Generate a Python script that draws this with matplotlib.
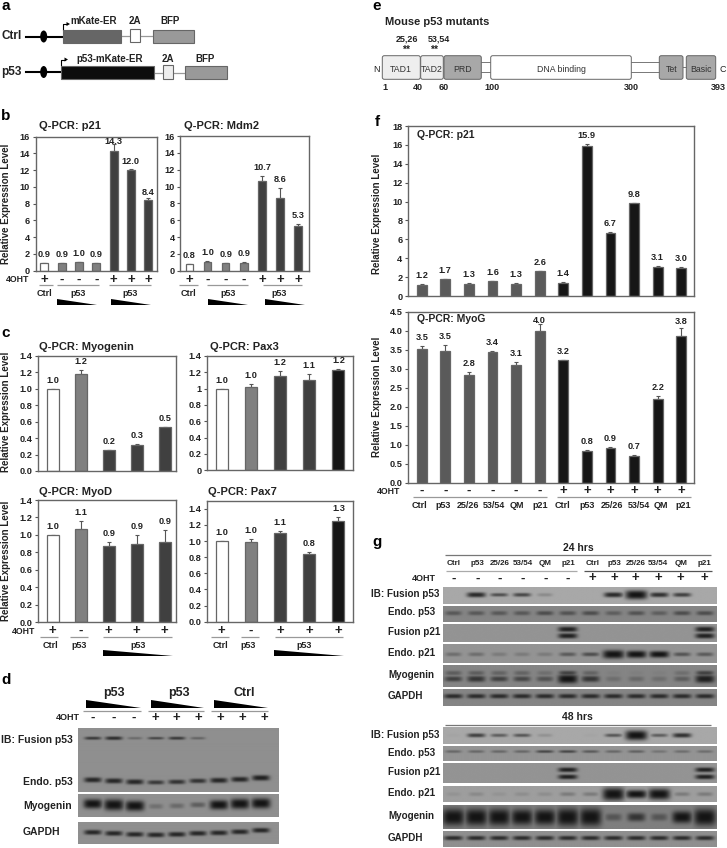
import numpy as np
import matplotlib
matplotlib.use('Agg')
import matplotlib.pyplot as plt
from matplotlib.patches import Rectangle, Polygon, Ellipse, FancyBboxPatch

plt.rcParams['font.family'] = ['Liberation Sans', 'DejaVu Sans']
plt.rcParams['font.weight'] = 'bold'

W, H = 727, 848

# Q-PCR values, upper error and printed labels
b_p21 = [0.9, 0.9, 1.0, 0.9, 14.3, 12.0, 8.4]
b_p21_err = [0.05, 0.03, 0.03, 0.03, 0.8, 0.2, 0.3]
b_mdm2 = [0.8, 1.0, 0.9, 0.9, 10.7, 8.6, 5.3]
b_mdm2_err = [0.05, 0.1, 0.03, 0.1, 0.6, 1.2, 0.2]
b_signs = ['+', '-', '-', '-', '+', '+', '+']

myogenin = [1.0, 1.18, 0.25, 0.32, 0.53]
myogenin_err = [0, 0.05, 0.005, 0.01, 0.01]
myogenin_lab = ['1.0', '1.2', '0.2', '0.3', '0.5']
pax3 = [1.0, 1.02, 1.16, 1.10, 1.23]
pax3_err = [0, 0.035, 0.055, 0.08, 0.015]
pax3_lab = ['1.0', '1.0', '1.2', '1.1', '1.2']
myod = [1.0, 1.07, 0.875, 0.90, 0.92]
myod_err = [0, 0.09, 0.04, 0.10, 0.14]
myod_lab = ['1.0', '1.1', '0.9', '0.9', '0.9']
pax7 = [1.0, 0.99, 1.10, 0.84, 1.25]
pax7_err = [0, 0.04, 0.03, 0.02, 0.05]
pax7_lab = ['1.0', '1.0', '1.1', '0.8', '1.3']
c_signs = ['+', '-', '+', '+', '+']

f_p21 = [1.2, 1.75, 1.3, 1.55, 1.3, 2.6, 1.4, 15.85, 6.7, 9.8, 3.1, 2.95]
f_p21_err = [0.03, 0.05, 0.05, 0.05, 0.03, 0.06, 0.05, 0.25, 0.1, 0.07, 0.08, 0.08]
f_p21_lab = ['1.2', '1.7', '1.3', '1.6', '1.3', '2.6', '1.4', '15.9', '6.7', '9.8', '3.1', '3.0']
f_myog = [3.52, 3.46, 2.84, 3.43, 3.11, 4.0, 3.23, 0.83, 0.93, 0.72, 2.21, 3.85]
f_myog_err = [0.08, 0.16, 0.07, 0.05, 0.06, 0.17, 0.01, 0.03, 0.01, 0.02, 0.07, 0.22]
f_myog_lab = ['3.5', '3.5', '2.8', '3.4', '3.1', '4.0', '3.2', '0.8', '0.9', '0.7', '2.2', '3.8']
f_signs = ['-'] * 6 + ['+'] * 6

# band strengths per lane, 1 = normal dark band, above 1 = swollen band
d_fusion = [0.7, 0.8, 0.3, 0.6, 0.7, 0.35, 0, 0, 0]
d_endo = [0.85, 0.85, 0.85, 0.7, 0.75, 0.75, 0.85, 0.85, 0.9]
d_myog = [1.1, 1.3, 1.2, 0.25, 0.3, 0.4, 1.1, 1.2, 1.2]
d_gapdh = [0.85] * 9

g24_fusion = [0, 0.85, 0.6, 0.65, 0.2, 0, 0, 0.85, 1.5, 0.8, 0.7, 0]
g24_endo = [0.4, 0.4, 0.4, 0.4, 0.5, 0.45, 0.5, 0.35, 0.45, 0.35, 0.5, 0.5]
g24_f21 = [0, 0, 0, 0, 0, 0.9, 0, 0, 0, 0, 0, 0.9]
g24_e21 = [0.3, 0.3, 0.2, 0.2, 0.2, 0.45, 0.55, 1.3, 1.1, 1.0, 0.5, 0.45]
g24_myog_up = [0.35, 0.35, 0.3, 0.3, 0.2, 0.6, 0.3, 0.05, 0.05, 0.05, 0.2, 0.6]
g24_myog_lo = [0.6, 0.7, 0.6, 0.55, 0.45, 1.0, 0.7, 0.2, 0.25, 0.2, 0.35, 0.9]
g24_gapdh = [0.8] * 12

g48_fusion = [0.03, 0.7, 0.5, 0.55, 0.15, 0, 0.03, 0.55, 1.7, 0.5, 0.8, 0]
g48_endo = [0.35, 0.35, 0.35, 0.35, 0.6, 0.6, 0.45, 0.35, 0.4, 0.25, 0.3, 0.3]
g48_f21 = [0, 0, 0, 0, 0, 0.9, 0, 0, 0, 0, 0, 0.9]
g48_e21 = [0.08, 0.15, 0.08, 0.12, 0.12, 0.25, 0.25, 1.9, 1.2, 1.6, 0.25, 0.25]
g48_myog = [1.4, 1.4, 1.4, 1.3, 1.3, 1.5, 1.5, 0.4, 0.7, 0.4, 1.0, 1.4]
g48_gapdh = [0.8] * 12

mut_labels = ['Ctrl', 'p53', '25/26', '53/54', 'QM', 'p21']

WHT, GRY, DRK, BLK = 'white', '#808080', '#404040', '#161616'
EDGE = '#666666'

fig = plt.figure(figsize=(W / 100, H / 100), dpi=100, facecolor='white')


def px_axes(l, t, r, b):
    return fig.add_axes([l / W, 1 - b / H, (r - l) / W, (b - t) / H])


# overlay in pixel coordinates for the labels and the schematic
ov = fig.add_axes([0, 0, 1, 1], zorder=10)
ov.set_xlim(0, W)
ov.set_ylim(H, 0)
ov.axis('off')
ov.patch.set_alpha(0)


def txt(x, y, s, size=6.5, ha='center', **kw):
    ov.text(x, y, s, fontsize=size, ha=ha, va='center', color='#222222', fontweight='bold', **kw)


def hline(x0, x1, y, color='#999999', lw=0.9):
    ov.plot([x0, x1], [y, y], color=color, lw=lw, solid_capstyle='butt')


def wedge(x0, x1, y0, y1):
    ov.add_patch(Polygon([(x0, y0), (x0, y1), (x1, y1)], closed=True, fc='black', ec='none'))


def bars(box, vals, errs, labels, colors, ylim, yticks, ticklabels, xlim, width,
         signs=None, sign_off=9, pads=None, lab_size=6.6):
    ax = px_axes(*box)
    xs = np.arange(len(vals))
    ax.bar(xs, vals, width=width, color=colors, edgecolor=EDGE, linewidth=0.9, zorder=2)
    ax.errorbar(xs, vals, yerr=[np.zeros(len(vals)), errs], fmt='none', ecolor='#555555',
                elinewidth=0.8, capsize=1.4, capthick=0.8, zorder=1)
    ax.set_xlim(*xlim)
    ax.set_ylim(*ylim)
    ax.set_xticks([])
    ax.set_yticks(yticks)
    ax.set_yticklabels(ticklabels)
    ax.tick_params(axis='y', length=2.5, width=0.8, pad=1.5, labelsize=6.6, color='#555555', labelcolor='#222222')
    for s in ax.spines.values():
        s.set_color(EDGE)
        s.set_linewidth(1.0)
    for i, lab in enumerate(labels):
        pad = (pads or {}).get(i, 8.5)
        ax.annotate(lab, xy=(i, vals[i] + errs[i]), xytext=(0, pad), textcoords='offset pixels',
                    ha='center', va='center', fontsize=lab_size, color='#222222', annotation_clip=False)
    if signs:
        for i, s in enumerate(signs):
            ax.annotate(s, xy=(i, 0), xycoords=('data', 'axes fraction'), xytext=(0, -sign_off),
                        textcoords='offset pixels', ha='center', va='center', fontsize=9.5,
                        color='#222222', annotation_clip=False)
    return ax


def blot(box, xlim, bg, rows, half=0.43):
    # rows: (y in px from top of the blot, strengths, band half-height in px, optional lane shifts)
    ax = px_axes(*box)
    h = box[3] - box[1]
    xg = np.linspace(xlim[0], xlim[1], int((box[2] - box[0]) * 3))
    yg = np.linspace(0, h, int(h * 3))
    X, Y = np.meshgrid(xg, yg)
    img = np.full(X.shape, float(bg))
    for row in rows:
        yc, vals, bh = row[:3]
        tilt = row[3] if len(row) > 3 else [0] * len(vals)
        for i, s in enumerate(vals):
            if s <= 0:
                continue
            sy = bh * max(s, 0.6)
            sx = half * (0.72 + 0.28 * min(s, 1.4))
            prof = np.exp(-(np.abs(X - i) / sx) ** 4 - (np.abs(Y - yc - tilt[i]) / sy) ** 2.6)
            img = np.minimum(img, bg - (bg - 0.08) * min(s, 1) * prof)
    ax.imshow(img, cmap='gray', vmin=0, vmax=1, aspect='auto', interpolation='bilinear',
              extent=[xlim[0], xlim[1], h, 0])
    ax.axis('off')
    return ax


# panel letters
for x, y, s in [(6, 6, 'a'), (6, 116, 'b'), (6, 333, 'c'), (6, 680, 'd'),
                (377, 6, 'e'), (377, 122, 'f'), (377, 542, 'g')]:
    ov.text(x, y, s, fontsize=11, ha='center', va='center', color='black')

# a: constructs
txt(1, 36, 'Ctrl', size=8.5, ha='left')
txt(1, 72, 'p53', size=8.5, ha='left')
for yy, x1 in [(36.5, 63), (72, 61)]:
    ov.plot([26, x1], [yy, yy], color='black', lw=1.5)
    ov.add_patch(Ellipse((43.7, yy), 7, 12, fc='black', ec='none'))
    ov.plot([x1, x1, x1 + 4], [yy - 7, yy - 12.5, yy - 12.5], color='black', lw=0.8)
    ov.add_patch(Polygon([(x1 + 3.5, yy - 14.5), (x1 + 3.5, yy - 10.5), (x1 + 7, yy - 12.5)], fc='black', ec='none'))
ov.plot([120, 152], [36, 36], color='#999999', lw=0.9)
ov.plot([153, 185], [72.5, 72.5], color='#999999', lw=0.9)
for x0, x1, y0, y1, fc in [(63, 120.5, 29.5, 42.5, '#666666'), (130, 140, 29, 42, 'white'),
                           (152.5, 194, 29.5, 42.5, '#999999'), (60.5, 153.5, 65.5, 79, '#0c0c0c'),
                           (162.5, 172.5, 65, 79, '#eeeeee'), (185, 227, 66, 79, '#999999')]:
    ov.add_patch(Rectangle((x0, y0), x1 - x0, y1 - y0, fc=fc, ec='#666666', lw=0.8, zorder=3))
for x, y, s in [(94, 21.5, 'mKate-ER'), (135, 21.5, '2A'), (170.5, 21.5, 'BFP'),
                (110, 59, 'p53-mKate-ER'), (168, 59, '2A'), (205, 59, 'BFP')]:
    txt(x, y, s, size=7)

# b: p21 and Mdm2 in the p53 fusion lines
t16 = list(range(0, 17, 2))
b_cols = [WHT, GRY, GRY, GRY, DRK, DRK, DRK]
bars((35.7, 136.7, 156.8, 270.7), b_p21, b_p21_err, [f'{v:.1f}' for v in b_p21], b_cols, (0, 16), t16, t16,
     (-0.5, 6.5), 0.46, b_signs, pads={4: 2.5, 5: 7.5, 6: 5})
bars((180.3, 136, 309, 270.7), b_mdm2, b_mdm2_err, [f'{v:.1f}' for v in b_mdm2], b_cols, (0, 16), t16, t16,
     (-0.5, 6.6), 0.42, b_signs)
txt(39, 126, 'Q-PCR: p21', size=8, ha='left')
txt(184, 126, 'Q-PCR: Mdm2', size=8, ha='left')
txt(6, 204, 'Relative Expression Level', size=7, rotation=90)
txt(29, 280, '4OHT', size=6.3, ha='right')
for x0, x1 in [(39, 53), (57, 99), (109, 151), (179, 198), (207, 248), (263, 302)]:
    hline(x0, x1, 284.5)
for x, s in [(44.5, 'Ctrl'), (78, 'p53'), (130, 'p53'), (188.5, 'Ctrl'), (228, 'p53'), (279.5, 'p53')]:
    txt(x, 293, s)
for x0, x1 in [(56.7, 97), (111, 151), (207.5, 248), (264.5, 305)]:
    wedge(x0, x1, 299.3, 305)

# c: myogenic factors
t14 = np.round(np.arange(0, 1.41, 0.2), 1)
t14_a = [f'{v:.1f}' for v in t14]
t14_b = ['0', '0.2', '0.4', '0.6', '0.8', '1', '1.2', '1.4']
xl_l = (-0.51, 4.39)
xl_r = (-0.49, 4.49)
bars((38.3, 356, 175.7, 471), myogenin, myogenin_err, myogenin_lab, [WHT, GRY, DRK, DRK, DRK], (0, 1.4), t14, t14_a,
     xl_l, 0.43)
bars((207.3, 356, 352.7, 470.3), pax3, pax3_err, pax3_lab, [WHT, GRY, DRK, DRK, BLK], (0, 1.4), t14, t14_b,
     xl_r, 0.41)
bars((38.3, 500, 175.7, 622), myod, myod_err, myod_lab, [WHT, GRY, DRK, DRK, DRK], (0, 1.4), t14, t14_a,
     xl_l, 0.43, c_signs)
bars((207.3, 500.7, 352.7, 621.7), pax7, pax7_err, pax7_lab, [WHT, GRY, DRK, DRK, BLK], (0, 1.5), t14, t14_a,
     xl_r, 0.41, c_signs)
txt(39, 347, 'Q-PCR: Myogenin', size=8, ha='left')
txt(210, 347, 'Q-PCR: Pax3', size=8, ha='left')
txt(39, 492, 'Q-PCR: MyoD', size=8, ha='left')
txt(208, 492, 'Q-PCR: Pax7', size=8, ha='left')
txt(6, 412, 'Relative Expression Level', size=7, rotation=90)
txt(6, 561, 'Relative Expression Level', size=7, rotation=90)
txt(35, 631, '4OHT', size=6.3, ha='right')
for x0, x1 in [(40, 58), (70, 88), (103, 172), (211, 229), (241, 259), (275, 343)]:
    hline(x0, x1, 637)
for x, s in [(50, 'Ctrl'), (79, 'p53'), (138, 'p53'), (220, 'Ctrl'), (248, 'p53'), (304, 'p53')]:
    txt(x, 645, s)
for x0, x1 in [(103, 172.7), (274, 343.7)]:
    wedge(x0, x1, 650, 656)

# d: western blot, dose series
dx = (-0.7, 8.85)
d_tilt = [-1, 0, 1, 1.5, 1, 0, -0.5, -1.5, -3]
blot((77.7, 728.3, 278.7, 791.7), dx, 0.56,
     [(10, d_fusion, 2.2), (52.5, d_endo, 3.0, d_tilt)])
blot((77.7, 794, 278.7, 817.3), dx, 0.56,
     [(11.5, d_myog, 4.2, [-1, 0, 1, 1.5, 1, 0, 0, -1, -1.5])])
blot((77.7, 821.7, 278.7, 844), dx, 0.56,
     [(12, d_gapdh, 2.8, d_tilt)])
for x, s in [(113.7, 'p53'), (178.7, 'p53'), (244, 'Ctrl')]:
    txt(x, 693, s, size=9)
for x0, x1 in [(86.3, 140.7), (150.7, 204), (213.7, 267.7)]:
    wedge(x0, x1, 700, 708)
for x0, x1 in [(83, 140.7), (147.7, 204.3), (210.7, 267.7)]:
    hline(x0, x1, 710.7)
txt(80, 718, '4OHT', size=6.5, ha='right')
for x, s in zip(np.array([277, 342, 400, 465, 530, 595, 660, 727, 792]) / 3, ['-'] * 3 + ['+'] * 6):
    txt(x, 718, s, size=9.5)
txt(1, 740, 'IB: Fusion p53', size=7.5, ha='left')
txt(23, 781.7, 'Endo. p53', size=7.5, ha='left')
txt(23, 805.7, 'Myogenin', size=7.5, ha='left')
txt(23, 832.3, 'GAPDH', size=7.5, ha='left')

# e: domain map
txt(384.7, 22, 'Mouse p53 mutants', size=8, ha='left')
txt(407, 38.7, '25,26', size=6.5)
txt(438.7, 38.7, '53,54', size=6.5)
txt(406, 50, '**', size=7.5)
txt(434, 50, '**', size=7.5)
for x0, x1, yy in [(481, 491, 62.3), (481, 491, 71.7), (631, 660, 62.3), (631, 660, 71.7), (683, 687, 67)]:
    ov.plot([x0, x1], [yy, yy], color='#777777', lw=0.7)
for x0, x1, fc, s in [(382.3, 420.3, '#eeeeee', 'TAD1'), (420.7, 443.3, '#eeeeee', 'TAD2'),
                      (444, 481.3, '#a8a8a8', 'PRD'), (490.7, 631.3, 'white', 'DNA binding'),
                      (659.3, 683, '#a8a8a8', 'Tet'), (686.3, 715.7, '#a8a8a8', 'Basic')]:
    ov.add_patch(FancyBboxPatch((x0 + 2, 57.7), x1 - x0 - 4, 19.6, boxstyle='round,pad=2', fc=fc, ec='#666666',
                                lw=0.7, zorder=3))
    ov.text((x0 + x1) / 2, 69, s, fontsize=6.3, ha='center', va='center', fontweight='normal', color='#333333', zorder=4)
ov.text(376, 69, 'N', fontsize=6.5, ha='center', va='center', fontweight='normal', color='#222222')
ov.text(723, 69, 'C', fontsize=6.5, ha='center', va='center', fontweight='normal', color='#222222')
for x, s in [(384.7, '1'), (418, '40'), (444, '60'), (492, '100'), (631.7, '300'), (718, '393')]:
    txt(x, 87.3, s)

# f: mutants
f_cols = ['#5a5a5a'] * 6 + [BLK] * 6
xl_f = (-0.58, 11.54)
t18 = list(range(0, 19, 2))
tm = np.round(np.arange(0, 4.51, 0.5), 1)
bars((408, 126, 694, 296), f_p21, f_p21_err, f_p21_lab, f_cols, (0, 18), t18, t18, xl_f, 0.42)
bars((408, 311.7, 694, 483), f_myog, f_myog_err, f_myog_lab, f_cols, (0, 4.5), tm, [f'{v:.1f}' for v in tm],
     xl_f, 0.42, f_signs, sign_off=8, pads={5: 3.5, 11: 7})
txt(417, 135, 'Q-PCR: p21', size=7.5, ha='left')
txt(417, 319, 'Q-PCR: MyoG', size=7.5, ha='left')
txt(376.7, 214, 'Relative Expression Level', size=7, rotation=90)
txt(376.7, 397, 'Relative Expression Level', size=7, rotation=90)
txt(400, 492, '4OHT', size=6.3, ha='right')
hline(413, 546.7, 496.7)
hline(557, 691, 496.7)
fx = np.array([165, 237, 313, 391, 458, 530, 596, 668, 743, 825, 891, 957]) / 3 + 364
for x, s in zip(fx, mut_labels * 2):
    txt(x, 505.7, s)

# g: western blots of the mutants at 24 and 48 hours
gx = (-0.45, 11.52)
gl, gr = 443, 716.3
g_lanes = (np.array([268, 340, 408, 477, 544, 612, 686, 752, 815, 882, 950, 1022]) / 3) + 364


def gbox(z0, z1):
    return (gl, 525 + z0 / 3, gr, 525 + z1 / 3)


blot(gbox(185, 237), gx, 0.66, [(8.5, g24_fusion, 2.9)])
blot(gbox(243, 290), gx, 0.52, [(7, g24_endo, 3.6)])
blot(gbox(297, 352), gx, 0.58, [(6, g24_f21, 2.8), (12.5, g24_f21, 2.8)])
blot(gbox(358, 413), gx, 0.58, [(10, g24_e21, 3.2)])
blot(gbox(421, 487), gx, 0.52, [(8, g24_myog_up, 3.8), (14, g24_myog_lo, 4.4)])
blot(gbox(493, 543), gx, 0.52, [(7, g24_gapdh, 2.8)])
blot(gbox(605, 657), gx, 0.66, [(9, g48_fusion, 2.8)])
blot(gbox(663, 708), gx, 0.58, [(5.5, g48_endo, 2.4)])
blot(gbox(715, 773), gx, 0.58, [(6.5, g48_f21, 2.5), (13.5, g48_f21, 2.5)])
blot(gbox(782, 832), gx, 0.62, [(9, g48_e21, 3.4)])
blot(gbox(841, 912), gx, 0.5, [(12, g48_myog, 6.0)])
blot(gbox(919, 967), gx, 0.56, [(7, g48_gapdh, 2.8)])

txt(364 + 643 / 3, 525 + 70 / 3, '24 hrs', size=7.5)
hline(445, 711, 555, color='#777777')
for x, s in zip(g_lanes, mut_labels * 2):
    txt(x, 525 + 116 / 3, s, size=5.8)
hline(445.7, 577.3, 571.3, color='#aaaaaa')
hline(584, 712.3, 571.3, color='#555555')
txt(364 + 215 / 3, 578.3, '4OHT', size=6.5, ha='right')
for x, s in zip(g_lanes, f_signs):
    txt(x, 578.3, s, size=9.5)
txt(364 + 640 / 3, 525 + 575 / 3, '48 hrs', size=7.5)
hline(445, 711, 525 + 601 / 3, color='#777777')
for z, s, xl in [(207, 'IB: Fusion p53', 371.3), (262, 'Endo. p53', 388), (320, 'Fusion p21', 388), (383, 'Endo. p21', 388),
                 (450, 'Myogenin', 388), (514, 'GAPDH', 388), (630, 'IB: Fusion p53', 371.3), (683, 'Endo. p53', 388),
                 (740, 'Fusion p21', 388), (805, 'Endo. p21', 388), (872, 'Myogenin', 388), (938, 'GAPDH', 388)]:
    txt(xl, 525 + z / 3, s, size=7.1, ha='left')

fig.savefig('out.png', dpi=100, facecolor='white')
